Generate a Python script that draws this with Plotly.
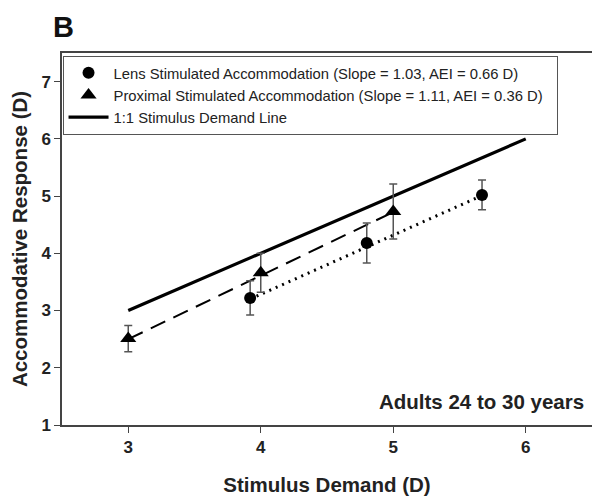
import plotly.graph_objects as go

# Lens stimulated accommodation (circles)
lens_x = [3.92, 4.80, 5.67]
lens_y = [3.22, 4.18, 5.02]
lens_err = [0.30, 0.35, 0.26]

# Proximal stimulated accommodation (triangles)
prox_x = [3.00, 4.00, 5.00]
prox_y = [2.51, 3.66, 4.73]
prox_err = [0.23, 0.34, 0.48]

# Regression lines (end points)
lens_fit_x = [3.92, 5.67]
lens_fit_y = [3.20, 5.01]
prox_fit_x = [3.00, 5.00]
prox_fit_y = [2.50, 4.72]

# 1:1 stimulus demand line
ident_x = [3, 6]
ident_y = [3, 6]

x_ticks = [3, 4, 5, 6]
y_ticks = [1, 2, 3, 4, 5, 6, 7]

FONT = "Arial, Liberation Sans, sans-serif"
ERR_COLOR = "#555555"
PAD = "\u00a0\u00a0"

fig = go.Figure()

fig.add_trace(go.Scatter(x=ident_x, y=ident_y, mode="lines",
                         line=dict(color="black", width=3.2),
                         name="1:1 Stimulus Demand Line", legendrank=3))
fig.add_trace(go.Scatter(x=prox_fit_x, y=prox_fit_y, mode="lines",
                         line=dict(color="black", width=2, dash="16px,9px"),
                         showlegend=False))
fig.add_trace(go.Scatter(x=lens_fit_x, y=lens_fit_y, mode="lines",
                         line=dict(color="black", width=3, dash="2px,5px"),
                         showlegend=False))

fig.add_trace(go.Scatter(x=lens_x, y=lens_y, mode="markers",
                         marker=dict(symbol="circle", size=12, color="black"),
                         error_y=dict(type="data", array=lens_err, visible=True,
                                      color=ERR_COLOR, thickness=1.5, width=4),
                         name="Lens Stimulated Accommodation (Slope = 1.03, AEI = 0.66 D)",
                         legendrank=1))
fig.add_trace(go.Scatter(x=prox_x, y=prox_y, mode="markers",
                         marker=dict(symbol="triangle-up", size=14, color="black"),
                         error_y=dict(type="data", array=prox_err, visible=True,
                                      color=ERR_COLOR, thickness=1.5, width=4),
                         name="Proximal Stimulated Accommodation (Slope = 1.11, AEI = 0.36 D)" + PAD,
                         legendrank=2))

axis_common = dict(showline=True, linecolor="#444444", linewidth=1.5, mirror=True,
                   ticks="outside", ticklen=6, tickcolor="#444444", tickwidth=1,
                   showgrid=False, zeroline=False, automargin=False,
                   tickfont=dict(family=FONT, size=17, color="#222222", weight="bold"))

# page body adds an 8px offset, so margins are compensated
fig.update_layout(
    width=600, height=504,
    margin=dict(l=54, r=16, t=45, b=87, autoexpand=False),
    paper_bgcolor="white", plot_bgcolor="white",
    font=dict(family=FONT, color="#222222"),
    xaxis=dict(range=[2.5, 6.5], tickvals=x_ticks,
               title=dict(text="Stimulus Demand (D)", standoff=21,
                          font=dict(family=FONT, size=20.5, color="#222222", weight="bold")),
               **axis_common),
    yaxis=dict(range=[1, 7.5], tickvals=y_ticks,
               title=dict(text="Accommodative Response (D)", standoff=15,
                          font=dict(family=FONT, size=20.5, color="#222222", weight="bold")),
               **axis_common),
    legend=dict(x=0.001, y=0.993, xanchor="left", yanchor="top",
                bgcolor="white", bordercolor="#555555", borderwidth=1,
                itemwidth=40,
                font=dict(family=FONT, size=14.8, color="#222222"),
                traceorder="normal"),
)

fig.add_annotation(text="Adults 24 to 30 years", x=0.989, y=1.41, xref="paper", yref="y",
                   xanchor="right", yanchor="middle", showarrow=False,
                   font=dict(family=FONT, size=20.5, color="#222222", weight="bold"))

fig.add_annotation(text="B", xref="paper", yref="paper", x=-0.021, y=1.119,
                   xanchor="left", yanchor="top", showarrow=False,
                   font=dict(family=FONT, size=29, color="#111111", weight="bold"))

fig.write_html("out.html")
